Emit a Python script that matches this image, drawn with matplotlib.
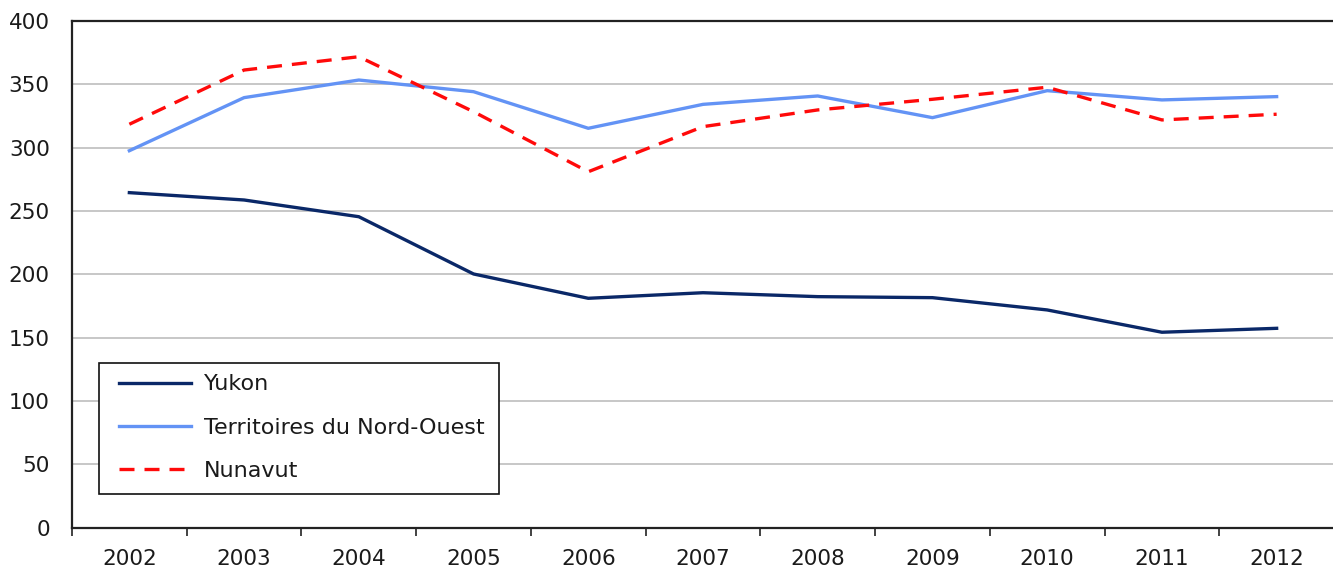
import matplotlib
matplotlib.use("Agg")
import matplotlib.pyplot as plt
from matplotlib.patches import Rectangle
import numpy as np

years = ["2002", "2003", "2004", "2005", "2006", "2007", "2008", "2009", "2010", "2011", "2012"]
yukon = [264.5, 258.7, 245.5, 200.3, 181.1, 185.5, 182.4, 181.6, 171.9, 154.3, 157.4]
tno = [297.6, 339.5, 353.4, 344.2, 315.3, 334.2, 340.8, 323.7, 345.0, 337.7, 340.3]
nunavut = [318.5, 361.3, 371.8, 328.4, 281.0, 316.6, 329.8, 338.2, 347.7, 321.9, 326.4]
series_labels = ["Yukon", "Territoires du Nord-Ouest", "Nunavut"]
y_ticks = [0, 50, 100, 150, 200, 250, 300, 350, 400]

W, H = 1333, 566
fig = plt.figure(figsize=(W / 100, H / 100), dpi=100)
ax = fig.add_axes([72 / W, 1 - 527.7 / H, (1334 - 72) / W, (527.7 - 21) / H])

x = np.arange(len(years))
lw = 2.4
ax.plot(x, yukon, color="#0a2868", lw=lw, label=series_labels[0], solid_joinstyle="round")
ax.plot(x, tno, color="#6393f5", lw=lw, label=series_labels[1], solid_joinstyle="round")
ax.plot(x, nunavut, color="#ff0a0a", lw=lw, label=series_labels[2], linestyle=(0, (4.5, 3.0)))

ax.set_xlim(-0.5, len(years) - 0.5)
ax.set_ylim(0, 400)
ax.set_yticks(y_ticks)
ax.set_yticklabels([str(v) for v in y_ticks])
ax.yaxis.grid(True, color="#b8b8b8", lw=1.1)
ax.set_axisbelow(True)

ax.set_xticks(np.arange(-0.5, len(years), 1.0))
ax.set_xticklabels([])
ax.set_xticks(x, minor=True)
ax.set_xticklabels(years, minor=True)
ax.tick_params(axis="x", which="major", length=6, width=1.2, color="#222222", direction="out")
ax.tick_params(axis="x", which="minor", length=0, pad=15, labelsize=15.5, labelcolor="#1a1a1a")
ax.tick_params(axis="y", length=0, pad=16, labelsize=15.5, labelcolor="#1a1a1a")

for s in ["left", "bottom", "top"]:
    ax.spines[s].set_color("#222222")
    ax.spines[s].set_linewidth(1.6)
ax.spines["right"].set_visible(False)

# legend frame
frame = Rectangle((99 / W, 1 - 494 / H), (499 - 99) / W, (494 - 363) / H,
                  transform=fig.transFigure, facecolor="white", edgecolor="#111111",
                  lw=1.2, zorder=4, clip_on=False)
ax.add_patch(frame)

leg = ax.legend(loc="upper left",
                bbox_to_anchor=((119 - 72) / 1262, (527.7 - 374.5) / 506.7),
                borderaxespad=0, borderpad=0, fontsize=16, frameon=False,
                handlelength=3.24, handletextpad=0.59, labelspacing=1.05)
leg.set_zorder(5)
for t in leg.get_texts():
    t.set_color("#1a1a1a")

fig.savefig("out.png", dpi=100)
